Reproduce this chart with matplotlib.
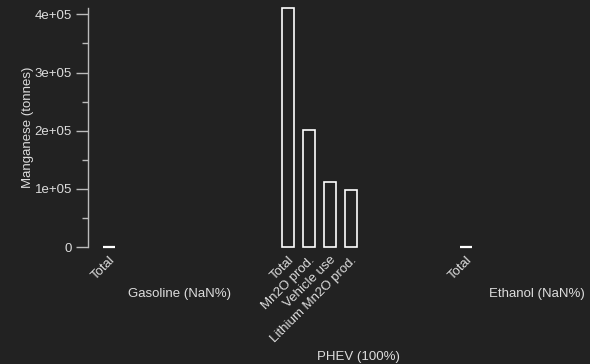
import numpy as np
import matplotlib
matplotlib.use("Agg")
from matplotlib import pyplot as plt
from matplotlib.ticker import MultipleLocator

plt.rcParams['font.family'] = ['Liberation Sans', 'DejaVu Sans']

# data
groups = ["Gasoline (NaN%)", "PHEV (100%)", "Ethanol (NaN%)"]
categories = [["Total"],
              ["Total", "Mn2O prod.", "Vehicle use", "Lithium Mn2O prod."],
              ["Total"]]
values = [[0],
          [411000, 201000, 111500, 98000],
          [0]]

bg = "#222222"
fg = "#dddddd"
axis_col = "#bbbbbb"

fig = plt.figure(figsize=(5.9, 3.64), dpi=100, facecolor=bg)
ax = fig.add_axes([88 / 590, 117 / 364, 502 / 590, 239 / 364])
ax.set_facecolor(bg)

group_step = 8.5
xs, labels, group_of = [], [], []
for g, cats in enumerate(categories):
    for i, c in enumerate(cats):
        xs.append(g * group_step + i)
        labels.append(c)
        group_of.append(g)
flat_vals = [v for vs in values for v in vs]

bars = ax.bar(xs, flat_vals, width=0.57, facecolor="none", edgecolor="white", linewidth=1.2)
for b in bars:
    b.set_clip_on(False)
    if b.get_height() == 0:
        b.set_linewidth(1.6)

ax.set_xlim(-1.0, 22.9)
ax.set_ylim(0, 411000)
ax.set_xticks(xs)
ax.set_xticklabels(labels, rotation=45, ha="right", rotation_mode="anchor",
                   color=fg, fontsize=9.5)
ax.tick_params(axis="x", length=0, pad=5)

ax.yaxis.set_major_locator(MultipleLocator(100000))
ax.yaxis.set_minor_locator(MultipleLocator(50000))
ax.set_yticks([0, 100000, 200000, 300000, 400000])
ax.set_yticklabels(["0", "1e+05", "2e+05", "3e+05", "4e+05"])
ax.tick_params(axis="y", which="major", length=8.6, width=1, color=axis_col,
               labelcolor=fg, labelsize=9.5, pad=3)
ax.tick_params(axis="y", which="minor", length=4.3, width=1, color=axis_col)

for s in ["top", "right", "bottom"]:
    ax.spines[s].set_visible(False)
ax.spines["left"].set_color(axis_col)
ax.spines["left"].set_linewidth(1)

ax.set_ylabel("Manganese (tonnes)", color=fg, fontsize=9.5)
ax.yaxis.set_label_coords(-0.108, 0.5)

# group labels go under the lowest tick label of each group
fig.canvas.draw()
renderer = fig.canvas.get_renderer()
ticklabels = ax.get_xticklabels()
to_fig = fig.transFigure.inverted()
for g, name in enumerate(groups):
    bottoms = [ticklabels[k].get_window_extent(renderer).y0
               for k in range(len(xs)) if group_of[k] == g]
    first = g * group_step
    xd = ax.transData.transform((first + 3.36, 0))[0]
    y = min(bottoms) - 6
    fx, fy = to_fig.transform((xd, y))
    fig.text(fx, fy, name, ha="center", va="top", color=fg, fontsize=9.5)

fig.savefig("out.png", dpi=100, facecolor=bg)
